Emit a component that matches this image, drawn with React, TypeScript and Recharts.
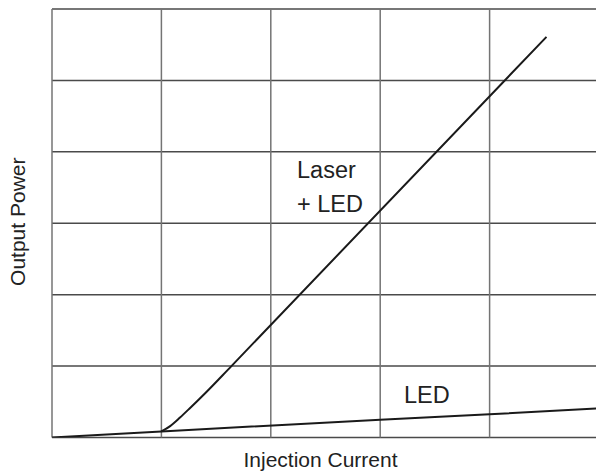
import React from 'react';
import { LineChart, Line, XAxis, YAxis, CartesianGrid } from 'recharts';

// Injection current (x) and output power (y), arbitrary units
const xTicks = [0, 1, 2, 3, 4, 5];
const yTicks = [0, 1, 2, 3, 4, 5, 6];

const ledCurrent = [0, 1, 3, 4, 5];
const ledPower = [0, 0.085, 0.25, 0.325, 0.41];

const laserCurrent = [1, 1.08, 1.17, 1.26, 1.4, 1.64, 4.52];
const laserPower = [0.085, 0.16, 0.28, 0.41, 0.62, 1.0, 5.61];

const ledData = ledCurrent.map((x, i) => ({ x, y: ledPower[i] }));
const laserData = laserCurrent.map((x, i) => ({ x, y: laserPower[i] }));

const xLabel = 'Injection Current';
const yLabel = 'Output Power';
const laserLabel = ['Laser', '+ LED'];
const ledLabel = 'LED';

const FONT = '"Liberation Sans", Arial, Helvetica, sans-serif';
const blank = () => '';

export default function App() {
  return (
    <div style={{ position: 'absolute', left: 0, top: 0, width: 596, height: 473, overflow: 'hidden', background: '#fff' }}>
      <LineChart width={599} height={473} margin={{ top: 9, right: 0, bottom: 35.5, left: 52 }}>
        <CartesianGrid horizontal={true} vertical={false} stroke="#4a4a4a" strokeWidth={1.5} />
        <CartesianGrid horizontal={false} vertical={true} stroke="#747474" strokeWidth={1.5} />
        <XAxis
          type="number"
          dataKey="x"
          domain={[0, 5]}
          ticks={xTicks}
          allowDataOverflow
          height={0}
          tickFormatter={blank}
          tickSize={6}
          stroke="#444"
          strokeWidth={1.5}
          tickLine={{ stroke: '#444', strokeWidth: 1.5 }}
        />
        <YAxis
          type="number"
          dataKey="y"
          domain={[0, 6]}
          ticks={yTicks}
          allowDataOverflow
          width={0}
          tickFormatter={blank}
          tickSize={5}
          stroke="#666"
          strokeWidth={1.5}
          tickLine={{ stroke: '#444', strokeWidth: 1.5 }}
        />
        <Line
          data={ledData}
          dataKey="y"
          type="linear"
          stroke="#1a1a1a"
          strokeWidth={2}
          dot={false}
          isAnimationActive={false}
        />
        <Line
          data={laserData}
          dataKey="y"
          type="monotone"
          stroke="#1a1a1a"
          strokeWidth={2}
          dot={false}
          isAnimationActive={false}
        />
      </LineChart>
      <svg width={596} height={473} style={{ position: 'absolute', left: 0, top: 0, pointerEvents: 'none' }}>
        <g fontFamily={FONT} fill="#222">
          <text x={297} y={178} fontSize={23.5}>{laserLabel[0]}</text>
          <text x={297} y={211.5} fontSize={23.5}>{laserLabel[1]}</text>
          <text x={404} y={403} fontSize={23.5}>{ledLabel}</text>
          <text x={320.5} y={466.5} fontSize={21} textAnchor="middle">{xLabel}</text>
          <text x={25} y={221.7} fontSize={21} textAnchor="middle" transform="rotate(-90, 25, 221.7)">{yLabel}</text>
        </g>
      </svg>
    </div>
  );
}
